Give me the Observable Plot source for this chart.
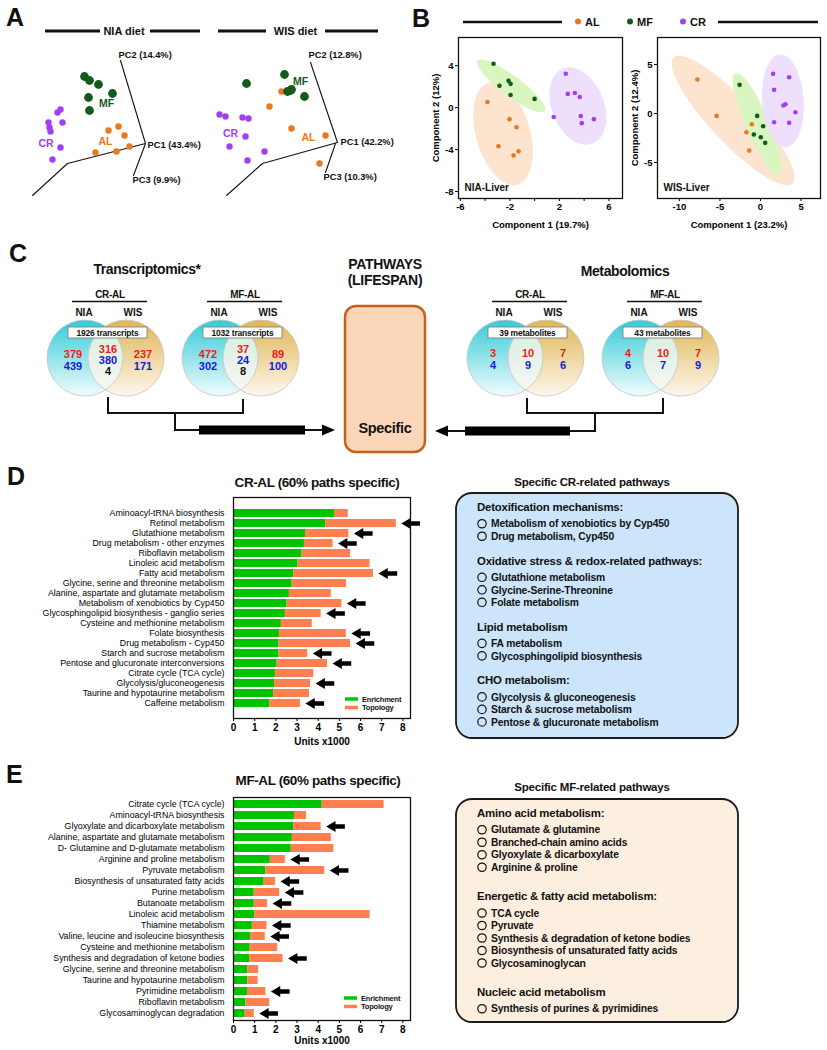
<!DOCTYPE html>
<html>
<head>
<meta charset="utf-8">
<script src="https://cdn.jsdelivr.net/npm/d3@7"></script>
<script src="https://cdn.jsdelivr.net/npm/@observablehq/plot@0.6"></script>
<style>
html,body{margin:0;padding:0;background:#fff;}
#fig{position:relative;width:827px;height:1050px;overflow:hidden;font-family:"Liberation Sans",Arial,Helvetica,sans-serif;}
#fig > svg{position:absolute;overflow:visible;}
</style>
</head>
<body>
<div id="fig"></div>
<script>
// ======================= DATA =======================
const groups = ["AL", "MF", "CR"];
const groupColors = ["#e9781f", "#155a1d", "#a23ff3"];
const ellipseFills = ["#fde4cf", "#d9f6c1", "#eee0fc"];

// ---- Panel A, NIA diet: 3-D PCA scores projected on the page (projection units)
const aNiaGroup = ["MF","MF","MF","MF","MF","MF","CR","CR","CR","CR","CR","CR","CR","CR","AL","AL","AL","AL","AL","AL"];
const aNiaX = [-3.05,-2.8,-2.35,-1.65,-2.85,-2.8,-4.25,-4.4,-4.85,-4.8,-4.75,-4.15,-4.25,-4.65,-1.85,-1.35,-1.05,-0.8,-1.45,-2.5];
const aNiaY = [3.35,3.15,2.95,2.5,2.3,1.65,1.7,1.55,1.05,0.8,0.6,1.05,-0.2,-0.8,0.65,0.85,0.4,-0.15,-0.4,-0.45];
const aNiaAxisId = ["PC2","PC2","base","base","base","PC3","PC3"];
const aNiaAxisX = [0,-1.25,0,-3.9,-5.65,0,-0.6];
const aNiaAxisY = [0,4.15,0,-1.0,-2.6,0,-1.6];
const aNiaAxisText = ["PC2 (14.4%)","PC1 (43.4%)","PC3 (9.9%)"];
const aNiaAxisTextX = [-1.35,0.1,-0.65];
const aNiaAxisTextY = [4.4,-0.1,-1.85];
const aNiaLabelX = [-2.0,-1.95,-4.97];   // AL, MF, CR
const aNiaLabelY = [0.1,2.0,0.0];

// ---- Panel A, WIS diet
const aWisGroup = ["MF","MF","MF","MF","MF","MF","AL","AL","AL","AL","AL","CR","CR","CR","CR","CR","CR","CR","CR"];
const aWisX = [-4.55,-2.65,-2.5,-2.35,-2.3,-1.65,-2.8,-3.4,-2.3,-0.6,-0.9,-5.9,-5.6,-4.75,-4.45,-4.6,-5.4,-3.65,-4.5];
const aWisY = [2.95,3.4,2.55,2.6,2.65,2.3,2.55,1.8,0.7,0.35,-1.05,1.4,1.3,1.25,1.2,0.3,-0.2,-0.45,-0.9];
const aWisAxisId = ["PC2","PC2","base","base","base","PC3","PC3"];
const aWisAxisX = [0,-1.35,0,-3.75,-5.55,-0.1,-0.6];
const aWisAxisY = [0,4.0,0,-1.05,-2.65,-0.05,-1.5];
const aWisAxisText = ["PC2 (12.8%)","PC1 (42.2%)","PC3 (10.3%)"];
const aWisAxisTextX = [-1.45,0.15,-0.7];
const aWisAxisTextY = [4.35,0.0,-1.75];
const aWisLabelX = [-1.45,-1.85,-5.35];
const aWisLabelY = [0.25,3.05,0.45];

// ---- Panel B, NIA-Liver (PLS-DA components)
const bNiaGroup = ["MF","MF","MF","MF","MF","MF","AL","AL","AL","AL","AL","AL","CR","CR","CR","CR","CR","CR","CR","CR"];
const bNiaX = [-3.32,-2.84,-2.11,-1.94,-1.94,0.0,-3.81,-2.03,-1.46,-2.92,-1.7,-1.3,2.52,2.68,3.25,3.65,1.54,3.73,3.81,4.79];
const bNiaY = [4.19,2.08,2.56,2.27,1.21,0.83,0.54,-1.1,-1.87,-3.69,-4.56,-4.17,3.23,1.31,1.40,1.02,-0.9,-0.81,-1.48,-1.1];
// confidence ellipses (AL, MF, CR): centre and two semi-axis vectors
const bNiaEllCx = [-2.55,-1.9,3.49], bNiaEllCy = [-2.49,2.08,0.15];
const bNiaEllAx = [1.18,2.72,1.22], bNiaEllAy = [-4.86,-2.40,-3.56];
const bNiaEllBx = [2.1,-0.49,1.95], bNiaEllBy = [0.72,-0.77,0.94];

// ---- Panel B, WIS-Liver
const bWisGroup = ["AL","AL","AL","AL","AL","MF","MF","MF","MF","MF","MF","CR","CR","CR","CR","CR","CR","CR","CR"];
const bWisX = [-7.79,-5.41,-1.07,-1.72,-1.39,-2.58,-0.41,0.33,-0.82,0.04,0.58,1.56,3.53,1.68,2.83,3.08,4.31,1.68,3.53];
const bWisY = [3.47,-0.24,-1.09,-1.91,-3.78,2.93,-0.24,-1.30,-2.14,-2.42,-2.99,4.05,3.70,2.42,0.82,0.95,0.13,-0.89,-0.95];
const bWisEllCx = [-3.38,-0.41,2.77], bWisEllCy = [-0.71,-1.02,1.3];
const bWisEllAx = [7.32,2.67,0.31], bWisEllAy = [-6.43,-5.13,-4.73];
const bWisEllBx = [1.97,1.35,2.56], bWisEllBy = [1.54,0.48,0.0];

// ---- Panel C: Venn diagrams
const vennTitles = ["CR-AL","MF-AL","CR-AL","MF-AL"];
const vennTotals = ["1926 transcripts","1032 transcripts","39 metabolites","43 metabolites"];
const vennRed  = [[379,316,237],[472,37,89],[3,10,7],[4,10,7]];
const vennBlue = [[439,380,171],[302,24,100],[4,9,6],[6,7,9]];
const vennBlack = [4,8,null,null];

// ---- Panel D: CR-AL pathways (units x1000)
const dNames = ["Aminoacyl-tRNA biosynthesis","Retinol metabolism","Glutathione metabolism","Drug metabolism - other enzymes","Riboflavin metabolism","Linoleic acid metabolism","Fatty acid metabolism","Glycine, serine and threonine metabolism","Alanine, aspartate and glutamate metabolism","Metabolism of xenobiotics by Cyp450","Glycosphingolipid biosynthesis - ganglio series","Cysteine and methionine metabolism","Folate biosynthesis","Drug metabolism - Cyp450","Starch and sucrose metabolism","Pentose and glucuronate interconversions","Citrate cycle (TCA cycle)","Glycolysis/gluconeogenesis","Taurine and hypotaurine metabolism","Caffeine metabolism"];
const dEnrichment = [4.77,4.35,3.40,3.35,3.24,3.05,2.84,2.77,2.64,2.53,2.45,2.26,2.17,2.15,2.15,2.06,1.98,1.94,1.90,1.71];
const dTopology   = [0.65,3.34,2.05,1.35,2.29,3.40,3.77,2.57,1.98,2.59,1.69,1.46,3.16,3.38,1.36,2.38,1.81,1.70,1.69,1.45];
const dSpecific   = [0,1,1,1,0,0,1,0,0,1,1,0,1,1,1,1,0,1,0,1];

// ---- Panel E: MF-AL pathways (units x1000)
const eNames = ["Citrate cycle (TCA cycle)","Aminoacyl-tRNA biosynthesis","Glyoxylate and dicarboxylate metabolism","Alanine, aspartate and glutamate metabolism","D- Glutamine and D-glutamate metabolism","Arginine and proline metabolism","Pyruvate metabolism","Biosynthesis of unsaturated fatty acids","Purine metabolism","Butanoate metabolism","Linoleic acid metabolism","Thiamine metabolism","Valine, leucine and isoleucine biosynthesis","Cysteine and methionine metabolism","Synthesis and degradation of ketone bodies","Glycine, serine and threonine metabolism","Taurine and hypotaurine metabolism","Pyrimidine metabolism","Riboflavin metabolism","Glycosaminoglycan degradation"];
const eEnrichment = [4.19,2.88,2.84,2.78,2.73,1.74,1.53,1.45,0.98,0.98,1.00,0.89,0.82,0.79,0.76,0.68,0.68,0.66,0.59,0.55];
const eTopology   = [2.92,0.57,1.30,1.84,2.01,0.71,2.78,0.53,1.20,0.63,5.45,0.69,0.68,1.30,1.58,0.51,0.48,0.87,1.12,0.43];
const eSpecific   = [0,0,1,0,0,1,1,1,1,1,0,1,1,0,1,0,0,1,0,1];

// ---- Specific pathway boxes
const crBoxKinds = ["h","i","i","h","i","i","i","h","i","i","h","i","i","i"];
const crBoxText = ["Detoxification mechanisms:","Metabolism of xenobiotics by Cyp450","Drug metabolism, Cyp450","Oxidative stress & redox-related pathways:","Glutathione metabolism","Glycine-Serine-Threonine","Folate metabolism","Lipid metabolism","FA metabolism","Glycosphingolipid biosynthesis","CHO metabolism:","Glycolysis & gluconeogenesis","Starch & sucrose metabolism","Pentose & glucuronate metabolism"];
const mfBoxKinds = ["h","i","i","i","i","h","i","i","i","i","i","h","i"];
const mfBoxText = ["Amino acid metabolism:","Glutamate & glutamine","Branched-chain amino acids","Glyoxylate & dicarboxylate","Arginine & proline","Energetic & fatty acid metabolism:","TCA cycle","Pyruvate","Synthesis & degradation of ketone bodies","Biosynthesis of unsaturated fatty acids","Glycosaminoglycan","Nucleic acid metabolism","Synthesis of purines & pyrimidines"];

// ======================= DRAWING =======================
const FONT = '"Liberation Sans", Arial, Helvetica, sans-serif';
const fig = document.getElementById("fig");
function place(el, left, top) {
  el.style.position = "absolute";
  el.style.left = left + "px";
  el.style.top = top + "px";
  fig.appendChild(el);
}

// ---- Panel A
function pcaProjection(g, xs, ys, axId, axX, axY, tTxt, tX, tY, lX, lY, xd, yd) {
  const pts = xs.map((x, i) => ({x, y: ys[i], g: g[i]}));
  const axis = axX.map((x, i) => ({x, y: axY[i], id: axId[i]}));
  const texts = tTxt.map((t, i) => ({t, x: tX[i], y: tY[i]}));
  const labels = groups.map((gr, i) => ({g: gr, x: lX[i], y: lY[i]}));
  return Plot.plot({
    width: 190, height: 160, margin: 0,
    style: {fontFamily: FONT, fontWeight: "bold", background: "none", overflow: "visible"},
    x: {domain: xd, axis: null}, y: {domain: yd, axis: null},
    color: {domain: groups, range: groupColors},
    marks: [
      Plot.line(axis, {x: "x", y: "y", z: "id", stroke: "#111", strokeWidth: 1.1}),
      Plot.dot(pts.filter(d => d.g !== "MF"), {x: "x", y: "y", fill: "g", r: 3.2}),
      Plot.dot(pts.filter(d => d.g === "MF"), {x: "x", y: "y", fill: "g", r: 4.4}),
      Plot.text(texts, {x: "x", y: "y", text: "t", textAnchor: "start", fontSize: 9.3, fill: "#111"}),
      Plot.text(labels, {x: "x", y: "y", text: "g", fill: "g", fontSize: 10.5})
    ]
  });
}
place(pcaProjection(aNiaGroup, aNiaX, aNiaY, aNiaAxisId, aNiaAxisX, aNiaAxisY, aNiaAxisText, aNiaAxisTextX, aNiaAxisTextY, aNiaLabelX, aNiaLabelY, [-6.25, 3.25], [-2.85, 5.15]), 20, 40);
place(pcaProjection(aWisGroup, aWisX, aWisY, aWisAxisId, aWisAxisX, aWisAxisY, aWisAxisText, aWisAxisTextX, aWisAxisTextY, aWisLabelX, aWisLabelY, [-6.6, 2.9], [-2.9, 5.1]), 205, 40);

// ---- Panel B
function plsPanel(cfg) {
  const pts = cfg.x.map((x, i) => ({x, y: cfg.y[i], g: cfg.g[i]}));
  const ells = groups.map((gr, k) => {
    const outline = d3.range(0, 73).map(j => {
      const t = j / 72 * 2 * Math.PI;
      return {x: cfg.cx[k] + cfg.ax[k] * Math.cos(t) + cfg.bx[k] * Math.sin(t),
              y: cfg.cy[k] + cfg.ay[k] * Math.cos(t) + cfg.by[k] * Math.sin(t)};
    });
    return Plot.line(outline, {x: "x", y: "y", fill: ellipseFills[k], stroke: "none", curve: "linear-closed"});
  });
  return Plot.plot({
    width: cfg.w, height: 200, marginLeft: 40, marginRight: 5, marginTop: 7, marginBottom: 32,
    style: {fontFamily: FONT, fontWeight: "bold", fontSize: "9px", background: "none", overflow: "visible"},
    x: {domain: cfg.xd}, y: {domain: cfg.yd},
    color: {domain: groups, range: groupColors},
    marks: [
      ...ells,
      Plot.dot(pts, {x: "x", y: "y", fill: "g", r: 2.3}),
      Plot.frame({stroke: "#111", strokeWidth: 1.3}),
      Plot.axisX({ticks: cfg.xticks, tickFormat: d => cfg.xlabeled.includes(d) ? String(d) : "", tickSize: 3, tickPadding: 2, fontSize: 9.5,
                  label: cfg.xlabel, labelAnchor: "center", labelOffset: 29, labelArrow: "none"}),
      Plot.axisY({ticks: cfg.yticks, tickFormat: d => String(d), tickSize: 3, tickPadding: 2, fontSize: 9.5,
                  label: cfg.ylabel, labelAnchor: "center", labelOffset: 26, labelArrow: "none"}),
      Plot.text([cfg.name], {frameAnchor: "bottom-left", dx: 6, dy: -8, fontSize: 10, fill: "#111"})
    ]
  });
}
place(plsPanel({w: 209, x: bNiaX, y: bNiaY, g: bNiaGroup, cx: bNiaEllCx, cy: bNiaEllCy, ax: bNiaEllAx, ay: bNiaEllAy, bx: bNiaEllBx, by: bNiaEllBy,
  xd: [-6.15, 7.1], yd: [-8.67, 6.69], xticks: [-6,-4,-2,0,2,4,6], xlabeled: [-6,-2,2,6], yticks: [4,0,-4,-8],
  xlabel: "Component 1 (19.7%)", ylabel: "Component 2 (12%)", name: "NIA-Liver"}), 418, 30);
place(plsPanel({w: 208, x: bWisX, y: bWisY, g: bWisGroup, cx: bWisEllCx, cy: bWisEllCy, ax: bWisEllAx, ay: bWisEllAy, bx: bWisEllBx, by: bWisEllBy,
  xd: [-12.7, 7.4], yd: [-8.67, 7.76], xticks: [-10,-5,0,5], xlabeled: [-10,-5,0,5], yticks: [5,0,-5],
  xlabel: "Component 1 (23.2%)", ylabel: "Component 2 (12.4%)", name: "WIS-Liver"}), 617, 30);

// ---- Panels D and E
function pathwayChart(names, enr, topo, spec, h, mb, lo) {
  const rows = names.map((n, i) => ({name: n, e: enr[i], total: enr[i] + topo[i], s: spec[i]}));
  const flagged = rows.filter(r => r.s);
  return Plot.plot({
    width: 430, height: h, marginLeft: 233, marginRight: 20, marginTop: 7, marginBottom: mb,
    style: {fontFamily: FONT, fontWeight: "bold", fontSize: "9px", background: "none", overflow: "visible"},
    x: {domain: [0, 8.36]},
    y: {type: "band", domain: names, padding: 0.25},
    marks: [
      Plot.barX(rows, {x1: 0, x2: "e", y: "name", fill: "#00c400"}),
      Plot.barX(rows, {x1: "e", x2: "total", y: "name", fill: "#ff7f50"}),
      Plot.frame({stroke: "#111", strokeWidth: 1.3}),
      Plot.link(flagged, {x1: d => d.total + 0.55, x2: d => d.total + 1.12, y1: "name", y2: "name", stroke: "#000", strokeWidth: 4.5}),
      Plot.dot(flagged, {x: d => d.total + 0.53, y: "name", symbol: "triangle", r: 4, rotate: -90, fill: "#000"}),
      Plot.axisX({ticks: d3.range(0, 9), tickSize: 3, tickPadding: 2, fontSize: 10, label: "Units x1000", labelAnchor: "center", labelOffset: lo, labelArrow: "none"}),
      Plot.axisY({tickSize: 0, tickPadding: 9, fontSize: 8.8, fontWeight: "normal", label: null})
    ]
  });
}
place(pathwayChart(dNames, dEnrichment, dTopology, dSpecific, 262, 34, 26), 0, 490);
place(pathwayChart(eNames, eEnrichment, eTopology, eSpecific, 260, 30, 23), 0, 790);

// ---- Overlay: titles, headers, diagram of panel C, boxes
const ov = d3.select(fig).append("svg").attr("width", 827).attr("height", 1050)
  .style("left", "0px").style("top", "0px").style("font-family", FONT);
const defs = ov.append("defs");
function grad(id, c1, c2) {
  const g = defs.append("linearGradient").attr("id", id).attr("x1", 0).attr("y1", 0).attr("x2", 0).attr("y2", 1);
  g.append("stop").attr("offset", "0%").attr("stop-color", c1);
  g.append("stop").attr("offset", "100%").attr("stop-color", c2);
}
grad("gCyan", "#35cbd7", "#f1fcfd");
grad("gTan", "#e0b656", "#fdf7ec");
grad("gLens", "#d3ebdc", "#f8faf3");

function T(x, y, s, size, o = {}) {
  return ov.append("text").attr("x", x).attr("y", y).attr("font-size", size)
    .attr("font-weight", o.w || "bold").attr("text-anchor", o.a || "start")
    .attr("fill", o.f || "#111").attr("letter-spacing", o.ls == null ? null : o.ls).text(s);
}
function L(pts, w, c = "#111") {
  ov.append("path").attr("d", d3.line()(pts)).attr("fill", "none").attr("stroke", c).attr("stroke-width", w);
}

// panel letters
T(6, 26, "A", 25); T(412, 27, "B", 25); T(9, 262, "C", 25); T(7, 485, "D", 25); T(6, 783, "E", 25);

// Panel A headers
L([[45, 31], [100, 31]], 3); L([[150, 31], [200, 31]], 3); T(124, 35, "NIA diet", 11, {a: "middle"});
L([[218, 31], [266, 31]], 3); L([[325, 31], [378, 31]], 3); T(295.5, 35, "WIS diet", 11, {a: "middle"});

// Panel B header + legend
L([[463, 22], [562, 22]], 2.5); L([[718, 22], [818, 22]], 2.5);
[578, 630, 683].forEach((x, i) => {
  ov.append("circle").attr("cx", x).attr("cy", 21.5).attr("r", 3).attr("fill", groupColors[i]);
  T(x + 7, 26, groups[i], 11);
});

// Panel C titles
T(147, 274, "Transcriptomics*", 14, {a: "middle", ls: -0.4});
T(385, 269, "PATHWAYS", 14, {a: "middle", ls: -0.3});
T(385, 285, "(LIFESPAN)", 14, {a: "middle", ls: -0.3});
T(625, 276, "Metabolomics", 14, {a: "middle", ls: -0.4});

// Venn diagrams
const vennLeft = [85, 220, 505, 640];
vennLeft.forEach((cxL, i) => {
  const cxR = cxL + 41, cy = 358, r = 38;
  ov.append("circle").attr("cx", cxL).attr("cy", cy).attr("r", r).attr("fill", "url(#gCyan)");
  ov.append("circle").attr("cx", cxR).attr("cy", cy).attr("r", r).attr("fill", "url(#gTan)");
  defs.append("clipPath").attr("id", "clipV" + i).append("circle").attr("cx", cxL).attr("cy", cy).attr("r", r);
  ov.append("circle").attr("cx", cxR).attr("cy", cy).attr("r", r).attr("fill", "url(#gLens)").attr("clip-path", `url(#clipV${i})`);
  [cxL, cxR].forEach(cx => ov.append("circle").attr("cx", cx).attr("cy", cy).attr("r", r).attr("fill", "none").attr("stroke", "#c4c4c4").attr("stroke-width", 0.8));
  T(cxL + 25, 298, vennTitles[i], 10, {a: "middle", ls: -0.3});
  L([[cxL - 13, 301.5], [cxL + 62, 301.5]], 1.5);
  T(cxL - 1, 316, "NIA", 10, {a: "middle"});
  T(cxL + 48, 316, "WIS", 10, {a: "middle"});
  ov.append("rect").attr("x", cxL - 17).attr("y", 327).attr("width", 79).attr("height", 11).attr("fill", "#fff").attr("stroke", "#777").attr("stroke-width", 0.8);
  T(cxL + 22.5, 336, vennTotals[i], 8.5, {a: "middle", ls: -0.2});
  const cols = [cxL - 12, cxL + 23, cxL + 58];
  const trans = vennBlack[i] != null;
  cols.forEach((x, k) => {
    const mid = k === 1 && trans;
    T(x, mid ? 353 : (trans ? 358 : 357), vennRed[i][k], 11, {a: "middle", f: "#f01818"});
    T(x, mid ? 364 : (trans ? 370 : 369), vennBlue[i][k], 11, {a: "middle", f: "#1717e0"});
  });
  if (trans) T(cols[1], 375, vennBlack[i], 11, {a: "middle"});
});

// Brackets and arrows
L([[108, 397], [108, 413], [243, 413], [243, 399]], 2);
L([[175, 413], [175, 430], [200, 430]], 2);
ov.append("rect").attr("x", 199).attr("y", 425.5).attr("width", 106).attr("height", 9).attr("fill", "#000");
L([[305, 430], [324, 430]], 2);
ov.append("path").attr("d", "M335,430 L322,424.5 L322,435.5 Z").attr("fill", "#000");

L([[527, 398], [527, 413], [663, 413], [663, 398]], 2);
L([[595, 413], [595, 431], [569, 431]], 2);
ov.append("rect").attr("x", 465).attr("y", 426.5).attr("width", 105).attr("height", 9).attr("fill", "#000");
L([[466, 431], [447, 431]], 2);
ov.append("path").attr("d", "M435,431 L448,425.5 L448,436.5 Z").attr("fill", "#000");

// "Specific" box
ov.append("rect").attr("x", 345).attr("y", 306).attr("width", 80).attr("height", 146).attr("rx", 11)
  .attr("fill", "#fbd6b8").attr("stroke", "#c4621c").attr("stroke-width", 2.5);
T(385, 433, "Specific", 14.5, {a: "middle", ls: -0.3});

// Panel D / E titles and legends
T(317, 487, "CR-AL (60% paths specific)", 13.5, {a: "middle", ls: -0.4});
T(318, 785, "MF-AL (60% paths specific)", 13.5, {a: "middle", ls: -0.4});
function legend(x, y) {
  L([[x, y], [x + 13, y]], 3.5, "#00c400");
  T(x + 17, y + 2.8, "Enrichment", 7.5, {ls: -0.2});
  L([[x, y + 8.5], [x + 13, y + 8.5]], 3.5, "#ff7f50");
  T(x + 17, y + 11.3, "Topology", 7.5, {ls: -0.2});
}
legend(345, 699);
legend(344, 998);

// Specific pathway boxes
function pathwayBox(kinds, texts, title, titleY, boxY, boxH, fill, hGap) {
  T(592, titleY, title, 11.5, {a: "middle", ls: -0.2});
  ov.append("rect").attr("x", 456).attr("y", boxY).attr("width", 282).attr("height", boxH).attr("rx", 16)
    .attr("fill", fill).attr("stroke", "#1a1a1a").attr("stroke-width", 1.8);
  let y = boxY + 14;
  kinds.forEach((k, i) => {
    if (i > 0) y += k === "h" ? hGap : (kinds[i - 1] === "h" ? 16.75 : 12.5);
    if (k === "h") T(477, y + 4.1, texts[i], 11.4, {ls: -0.2});
    else {
      ov.append("circle").attr("cx", 482).attr("cy", y).attr("r", 4.2).attr("fill", "none").attr("stroke", "#111").attr("stroke-width", 1.2);
      T(491, y + 3.7, texts[i], 10.3, {ls: -0.15});
    }
  });
}
pathwayBox(crBoxKinds, crBoxText, "Specific CR-related pathways", 486, 493, 245, "#cde5fb", 24.3);
pathwayBox(mfBoxKinds, mfBoxText, "Specific MF-related pathways", 791, 799, 223, "#fdefe0", 29);
</script>
</body>
</html>
